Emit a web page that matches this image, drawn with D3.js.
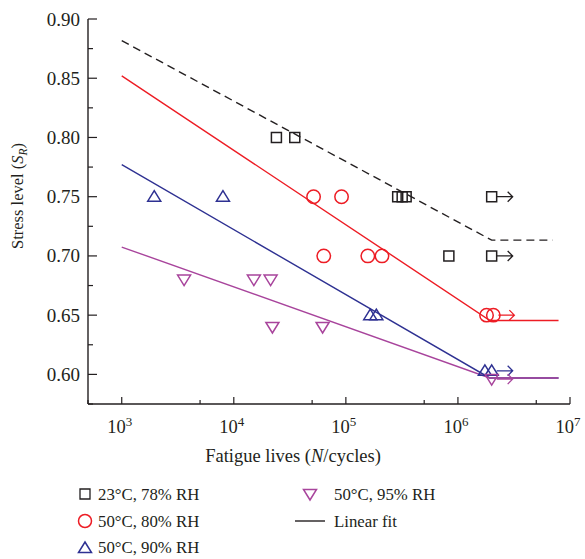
<!DOCTYPE html>
<html>
<head>
<meta charset="utf-8">
<script src="https://cdn.jsdelivr.net/npm/d3@7"></script>
<style>
  html, body { margin: 0; padding: 0; background: #fff; }
  svg { display: block; font-family: "Liberation Serif", "DejaVu Serif", serif; }
</style>
</head>
<body>
<svg id="chart" width="585" height="559"></svg>
<script>
// S-N Diagramm: Spannungsniveau gegen Lebensdauer

// Messpunkte (N = Lastwechsel, S = Spannungsniveau, run = Durchläufer mit Pfeil)
const n23 = [24000, 35000, 290000, 318000, 345000, 2.0e6, 830000, 2.0e6];
const s23 = [0.80, 0.80, 0.75, 0.75, 0.75, 0.75, 0.70, 0.70];
const run23 = [0, 0, 0, 0, 0, 1, 0, 1];

const n80 = [51500, 91500, 63500, 157000, 210000, 1.8e6, 2.07e6];
const s80 = [0.75, 0.75, 0.70, 0.70, 0.70, 0.65, 0.65];
const run80 = [0, 0, 0, 0, 0, 0, 1];

const n90 = [1950, 8000, 165000, 187000, 1.74e6, 2.0e6];
const s90 = [0.75, 0.75, 0.65, 0.65, 0.603, 0.603];
const run90 = [0, 0, 0, 0, 0, 1];

const n95 = [3600, 15100, 21300, 22100, 62000, 2.0e6];
const s95 = [0.68, 0.68, 0.68, 0.64, 0.64, 0.596];
const run95 = [0, 0, 0, 0, 0, 1];

// Lineare Anpassung (Start, Knick, Ende)
const fitN23 = [1000, 2.0e6, 7.0e6];
const fitS23 = [0.8817, 0.7133, 0.7133];
const fitN80 = [1000, 1.93e6, 7.9e6];
const fitS80 = [0.852, 0.6455, 0.6455];
const fitN90 = [1000, 1.92e6, 7.9e6];
const fitS90 = [0.777, 0.597, 0.597];
const fitN95 = [1000, 1.92e6, 7.9e6];
const fitS95 = [0.7075, 0.597, 0.597];

// Achsen
const yTicks = [0.60, 0.65, 0.70, 0.75, 0.80, 0.85, 0.90];
const yMinor = [0.575, 0.625, 0.675, 0.725, 0.775, 0.825, 0.875];
const xTicks = [1e3, 1e4, 1e5, 1e6, 1e7];
const xMinor = [5e2, 5e3, 5e4, 5e5, 5e6];

const legendLabels = ["23°C, 78% RH", "50°C, 80% RH", "50°C, 90% RH", "50°C, 95% RH", "Linear fit"];

// Farben
const cBlack = "#231f20";
const cRed = "#ed1c24";
const cBlue = "#2e3192";
const cPurple = "#a8449c";

const svg = d3.select("#chart");

const x = d3.scaleLog().domain([500, 1e7]).range([88, 570]);
const y = d3.scaleLinear().domain([0.575, 0.90]).range([404, 19]);

// Achsen zeichnen
const yAxis = svg.append("g").attr("transform", "translate(88,0)");
yAxis.append("line").attr("y1", y(0.575)).attr("y2", y(0.90))
    .attr("stroke", cBlack).attr("stroke-width", 1.4);
yAxis.selectAll(".maj").data(yTicks).join("line")
    .attr("x1", 0).attr("x2", 9).attr("y1", d => y(d)).attr("y2", d => y(d))
    .attr("stroke", cBlack).attr("stroke-width", 1.2);
yAxis.selectAll(".min").data(yMinor).join("line")
    .attr("x1", 0).attr("x2", 5).attr("y1", d => y(d)).attr("y2", d => y(d))
    .attr("stroke", cBlack).attr("stroke-width", 1.2);
yAxis.selectAll("text").data(yTicks).join("text")
    .attr("x", -8).attr("y", d => y(d) + 6.5)
    .attr("text-anchor", "end")
    .style("font-size", "19px").attr("fill", cBlack)
    .text(d => d.toFixed(2));

const xAxis = svg.append("g").attr("transform", "translate(0,404)");
xAxis.append("line").attr("x1", 88).attr("x2", 570)
    .attr("stroke", cBlack).attr("stroke-width", 1.4);
xAxis.selectAll(".maj").data(xTicks).join("line")
    .attr("x1", d => x(d)).attr("x2", d => x(d)).attr("y1", 0).attr("y2", -7)
    .attr("stroke", cBlack).attr("stroke-width", 1.2);
xAxis.selectAll(".min").data(xMinor).join("line")
    .attr("x1", d => x(d)).attr("x2", d => x(d)).attr("y1", 0).attr("y2", -4)
    .attr("stroke", cBlack).attr("stroke-width", 1.2);
const xLab = xAxis.selectAll("text").data(xTicks).join("text")
    .attr("x", d => x(d) - 2).attr("y", 29)
    .attr("text-anchor", "middle")
    .style("font-size", "18.5px").attr("fill", cBlack);
xLab.append("tspan").text("10");
xLab.append("tspan").attr("dy", -7).style("font-size", "13px")
    .text(d => Math.round(Math.log10(d)));

// Achsentitel
const xTitle = svg.append("text").attr("x", 293).attr("y", 462)
    .attr("text-anchor", "middle").style("font-size", "18.5px").attr("fill", cBlack);
xTitle.append("tspan").text("Fatigue lives (");
xTitle.append("tspan").style("font-style", "italic").text("N");
xTitle.append("tspan").text("/cycles)");

const yTitle = svg.append("text").attr("transform", "translate(23,196) rotate(-90)")
    .attr("text-anchor", "middle").style("font-size", "16.5px").attr("fill", cBlack);
yTitle.append("tspan").text("Stress level (");
yTitle.append("tspan").style("font-style", "italic").text("S");
yTitle.append("tspan").style("font-style", "italic").style("font-size", "11.5px")
    .attr("dy", 4).text("R");
yTitle.append("tspan").attr("dy", -4).text(")");

// Anpassungslinien
const line = d3.line().x(d => x(d[0])).y(d => y(d[1]));
function drawFit(ns, ss, color, dash) {
    svg.append("path")
        .datum(d3.zip(ns, ss))
        .attr("d", line)
        .attr("fill", "none")
        .attr("stroke", color)
        .attr("stroke-width", 1.4)
        .attr("stroke-dasharray", dash || null);
}
drawFit(fitN23, fitS23, cBlack, "8,5");
drawFit(fitN80, fitS80, cRed);
drawFit(fitN90, fitS90, cBlue);
drawFit(fitN95, fitS95, cPurple);

// Marker
function markerPath(type, cx, cy) {
    if (type === "square") return `M${cx - 5},${cy - 5}h10v10h-10Z`;
    if (type === "up") return `M${cx},${cy - 6}L${cx + 6.5},${cy + 4.5}L${cx - 6.5},${cy + 4.5}Z`;
    if (type === "down") return `M${cx},${cy + 6}L${cx + 6.5},${cy - 4.5}L${cx - 6.5},${cy - 4.5}Z`;
    return null;
}

function drawSeries(ns, ss, runs, type, color) {
    const pts = d3.zip(ns, ss, runs);
    const g = svg.append("g");
    if (type === "circle") {
        g.selectAll("circle").data(pts).join("circle")
            .attr("cx", d => x(d[0])).attr("cy", d => y(d[1])).attr("r", 6.7)
            .attr("fill", "none").attr("stroke", color).attr("stroke-width", 1.5);
    } else {
        g.selectAll("path").data(pts).join("path")
            .attr("d", d => markerPath(type, x(d[0]), y(d[1])))
            .attr("fill", "none").attr("stroke", color).attr("stroke-width", 1.5);
    }
    // Pfeile für Durchläufer
    g.selectAll(".arrow").data(pts.filter(d => d[2])).join("path")
        .attr("d", d => {
            const ax = x(d[0]) + 5, ay = y(d[1]);
            return `M${ax},${ay}H${ax + 16}M${ax + 11},${ay - 5}L${ax + 16},${ay}L${ax + 11},${ay + 5}`;
        })
        .attr("fill", "none").attr("stroke", color).attr("stroke-width", 1.3);
}
drawSeries(n23, s23, run23, "square", cBlack);
drawSeries(n80, s80, run80, "circle", cRed);
drawSeries(n90, s90, run90, "up", cBlue);
drawSeries(n95, s95, run95, "down", cPurple);

// Legende
const legend = svg.append("g").style("font-size", "16.8px").attr("fill", cBlack);
const rows = [500, 527, 553];
legend.append("path").attr("d", markerPath("square", 85, rows[0] - 6))
    .attr("fill", "none").attr("stroke", cBlack).attr("stroke-width", 1.3);
legend.append("circle").attr("cx", 85).attr("cy", rows[1] - 6).attr("r", 6.5)
    .attr("fill", "none").attr("stroke", cRed).attr("stroke-width", 1.5);
legend.append("path").attr("d", markerPath("up", 85, rows[2] - 5))
    .attr("fill", "none").attr("stroke", cBlue).attr("stroke-width", 1.5);
legend.append("path").attr("d", markerPath("down", 310, rows[0] - 6))
    .attr("fill", "none").attr("stroke", cPurple).attr("stroke-width", 1.5);
legend.append("line").attr("x1", 295).attr("x2", 325)
    .attr("y1", rows[1] - 6).attr("y2", rows[1] - 6)
    .attr("stroke", cBlack).attr("stroke-width", 1.4);

legend.selectAll("text").data(legendLabels).join("text")
    .attr("x", (d, i) => i < 3 ? 98 : 334)
    .attr("y", (d, i) => i < 3 ? rows[i] : rows[i - 3])
    .text(d => d);
</script>
</body>
</html>
